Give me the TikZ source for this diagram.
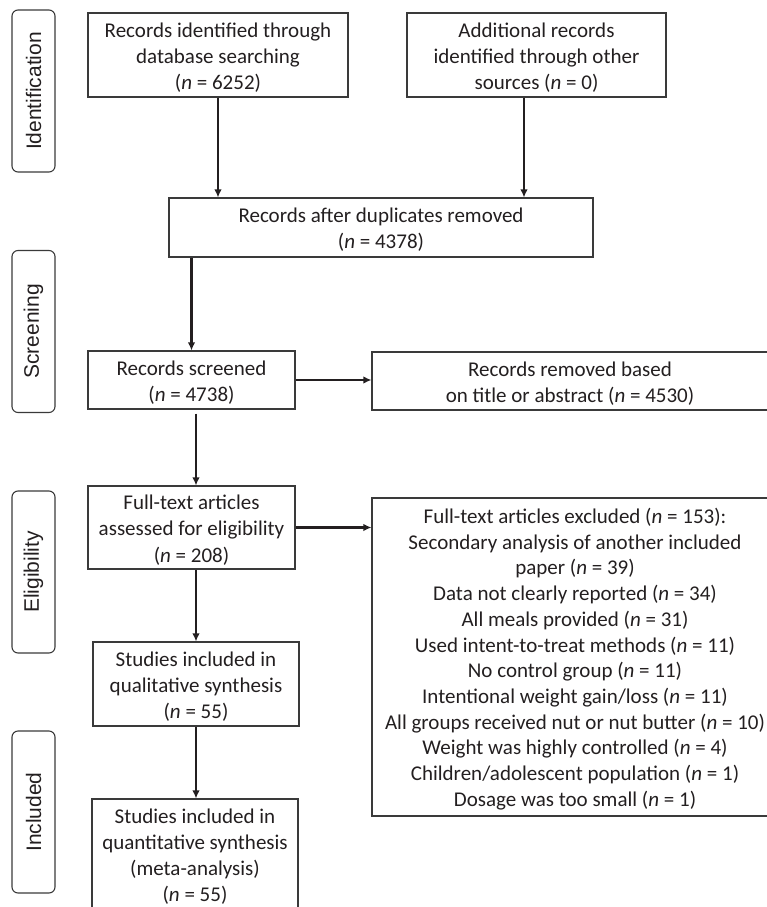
\documentclass[tikz,border=0pt]{standalone}
\usepackage{fontspec}
\setmainfont{Carlito}
\newfontfamily\labfont{Liberation Sans}
\usetikzlibrary{arrows.meta}
\definecolor{ink}{HTML}{231F20}
\definecolor{edge}{HTML}{3A3A3A}
\tikzset{
  flowbox/.style={draw=edge, line width=1.1pt, rectangle, inner sep=0pt},
  boxtext/.style={align=center, inner sep=0pt, text=ink, font=\fontsize{21}{26.2}\selectfont},
  stagebox/.style={draw=edge, line width=1.1pt, rectangle, rounded corners=6pt, inner sep=0pt,
    rotate=90, minimum width=162pt, minimum height=43pt, text=ink,
    font=\labfont\fontsize{21}{25}\selectfont},
  arr/.style={draw=ink, line width=2.3pt, -{Latex[length=8pt,width=7.5pt]}},
}
\begin{document}
\begin{tikzpicture}[x=1pt,y=-1pt]
\path[use as bounding box] (0,0) rectangle (767,907);
\clip (0,0) rectangle (767,907);
% stage labels
\node[stagebox] (sid) at (33.5,91) {Identification};
\node[stagebox] (ssc) at (33.5,331.5) {Screening};
\node[stagebox] (sel) at (33.5,572) {Eligibility};
\node[stagebox] (sin) at (33.5,812) {Included};
% boxes
\node[flowbox, minimum width=260pt, minimum height=84pt] (id1) at (218,55) {};
\node[boxtext] (id1t) at ([yshift=-2.5pt]id1.center)
  {Records identified through\\database searching\\(\textit{n} = 6252)};
\node[flowbox, minimum width=259pt, minimum height=84pt] (id2) at (536.5,55) {};
\node[boxtext] (id2t) at ([yshift=-2.5pt]id2.center)
  {Additional records\\identified through other\\sources (\textit{n} = 0)};
\node[flowbox, minimum width=424pt, minimum height=59pt] (dup) at (381,227.5) {};
\node[boxtext] (dupt) at ([yshift=-2.5pt]dup.center)
  {Records after duplicates removed\\(\textit{n} = 4378)};
\node[flowbox, minimum width=207pt, minimum height=58pt] (scr) at (191.5,380) {};
\node[boxtext] (scrt) at ([yshift=-2.5pt]scr.center)
  {Records screened\\(\textit{n} = 4738)};
\node[flowbox, minimum width=396pt, minimum height=58pt] (rem) at (570,381) {};
\node[boxtext] (remt) at ([yshift=-2.5pt]rem.center)
  {Records removed based\\on title or abstract (\textit{n} = 4530)};
\node[flowbox, minimum width=207pt, minimum height=83pt] (ft) at (191.5,527.5) {};
\node[boxtext] (ftt) at ([yshift=-2.5pt]ft.center)
  {Full-text articles\\assessed for eligibility\\(\textit{n} = 208)};
\node[flowbox, minimum width=406pt, minimum height=318pt] (exc) at (575,657) {};
\node[boxtext, font=\fontsize{21}{25.7}\selectfont] (exct) at ([yshift=-2pt]exc.center)
  {Full-text articles excluded (\textit{n} = 153):\\
   Secondary analysis of another included\\
   paper (\textit{n} = 39)\\
   Data not clearly reported (\textit{n} = 34)\\
   All meals provided (\textit{n} = 31)\\
   Used intent-to-treat methods (\textit{n} = 11)\\
   No control group (\textit{n} = 11)\\
   Intentional weight gain/loss (\textit{n} = 11)\\
   All groups received nut or nut butter (\textit{n} = 10)\\
   Weight was highly controlled (\textit{n} = 4)\\
   Children/adolescent population (\textit{n} = 1)\\
   Dosage was too small (\textit{n} = 1)};
\node[flowbox, minimum width=206pt, minimum height=84pt] (qual) at (196,684) {};
\node[boxtext] (qualt) at ([yshift=-2.5pt]qual.center)
  {Studies included in\\qualitative synthesis\\(\textit{n} = 55)};
\node[flowbox, minimum width=206pt, minimum height=110pt] (quant) at (195,854) {};
\node[boxtext] (quantt) at ([yshift=-2.5pt]quant.center)
  {Studies included in\\quantitative synthesis\\(meta-analysis)\\(\textit{n} = 55)};
% connectors
\draw[arr] (id1.south) -- (id1.south |- dup.north);
\draw[arr] ([xshift=-12.5pt]id2.south) -- ([xshift=-12.5pt]id2.south |- dup.north);
\draw[arr] (dup.south -| scr.north) -- (scr.north);
\draw[arr] (scr.east) -- (scr.east -| rem.west);
\draw[arr, shorten <=4pt] ([xshift=4.5pt]scr.south) -- ([xshift=4.5pt]scr.south |- ft.north);
\draw[arr] (ft.east) -- (ft.east -| exc.west);
\draw[arr] (ft.south -| qual.north) -- (qual.north);
\draw[arr] (qual.south) -- (qual.south |- quant.north);
\end{tikzpicture}
\end{document}
